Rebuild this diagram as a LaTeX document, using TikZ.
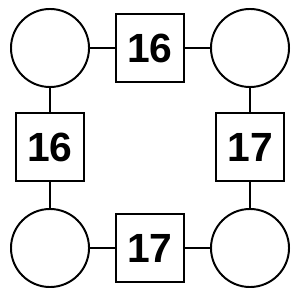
\documentclass[tikz,border=0pt]{standalone}
\usepackage{fontspec}
\setmainfont{Liberation Sans}
\begin{document}
\begin{tikzpicture}[x=0.025cm,y=-0.025cm,line width=1.4pt,
ring/.style={draw, circle, minimum size=1.95cm, inner sep=0pt},
box/.style={draw, rectangle, minimum size=1.7cm, inner sep=0pt, font=\fontsize{29}{29}\selectfont\bfseries}]

\useasboundingbox (0,0) rectangle (300,300);

\node[ring] (c_1) at (50,48) {};
\node[ring] (c_2) at (250,48) {};
\node[ring] (c_3) at (50,248) {};
\node[ring] (c_4) at (250,248) {};

\node[box] (s_1) at (150,48) {16};
\node[box] (s_2) at (50,147) {16};
\node[box] (s_3) at (250,147) {17};
\node[box] (s_4) at (150,248) {17};

\foreach \a/\b in {c_1/s_1, s_1/c_2, c_1/s_2, s_2/c_3, c_2/s_3, s_3/c_4, c_3/s_4, s_4/c_4}{
\path (\a) edge (\b);
}

\end{tikzpicture}
\end{document}
